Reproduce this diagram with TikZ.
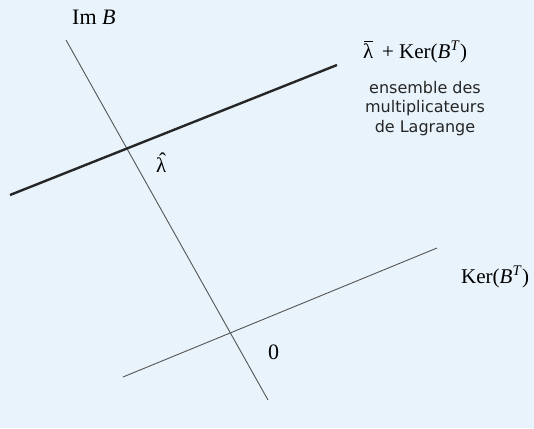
\documentclass[tikz,border=0pt]{standalone}
\usepackage{fontspec}
\setmainfont{Liberation Serif}
\newfontfamily\labelsans{DejaVu Sans}
\definecolor{bgblue}{RGB}{232,243,251}
\definecolor{thinline}{RGB}{85,85,85}
\newcommand{\lambar}{\leavevmode\rlap{\kern0.04em\raisebox{0.74em}{\rule{0.44em}{0.05em}}}λ}
\newcommand{\lamhat}{\leavevmode\rlap{\kern0.14em\raisebox{0.22em}{ˆ}}λ}
\begin{document}
\begin{tikzpicture}[x=1pt,y=-1pt,
  thinl/.style={draw=thinline,line width=0.9pt},
  thickl/.style={draw=black!85,line width=2.4pt},
  serlab/.style={font=\fontsize{21}{24}\selectfont,inner sep=0pt,anchor=base west},
  sanslab/.style={font=\labelsans\fontsize{16}{19.5}\selectfont,align=center,inner sep=0pt,text=black!85}]
\useasboundingbox[fill=bgblue] (0,0) rectangle (534,428);
\coordinate (imA) at (66,40);
\coordinate (imB) at (268,400);
\coordinate (thA) at (10,195);
\coordinate (thB) at (337,65);
\coordinate (kA) at (123,377);
\coordinate (kB) at (437,248);
\draw[thinl] (imA) -- (imB);
\draw[thickl] (thA) -- (thB);
\draw[thinl] (kA) -- (kB);
\node[serlab,font=\fontsize{22}{24}\selectfont] (lim) at (72,25) {Im \textit{B}};
\node[serlab] (llam) at (363,58) {\lambar\ \,+ Ker(\textit{B}\textsuperscript{\textit{T}})};
\node[sanslab,anchor=north] (lens) at (425,81) {ensemble des\\multiplicateurs\\de Lagrange};
\node[serlab] (lhat) at (156,172) {\lamhat};
\node[serlab] (lker) at (461,283) {Ker(\textit{B}\textsuperscript{\textit{T}})};
\node[serlab,font=\fontsize{22}{24}\selectfont] (lzero) at (268,359) {0};
\end{tikzpicture}
\end{document}
